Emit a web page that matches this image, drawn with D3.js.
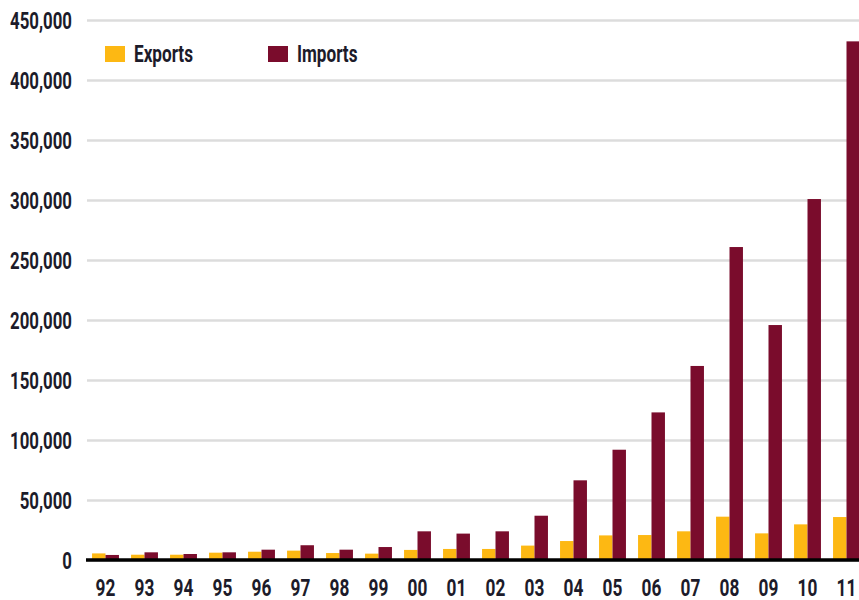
<!DOCTYPE html>
<html>
<head>
<meta charset="utf-8">
<script src="https://cdn.jsdelivr.net/npm/d3@7"></script>
<style>
  html, body { margin: 0; padding: 0; background: #ffffff; }
  svg { display: block; }
  .lbl { font-family: Roboto, "DejaVu Sans", sans-serif; font-weight: bold; fill: #1c1b2a; }
</style>
</head>
<body>
<svg id="chart" width="859" height="600"></svg>
<script>
// Trade values by year (two-digit year labels)
const years = ["92","93","94","95","96","97","98","99","00","01","02","03","04","05","06","07","08","09","10","11"];
const exportsVals = [5500, 4400, 4400, 6100, 6900, 7800, 5800, 5300, 8400, 9200, 9200, 12000, 15800, 20500, 20800, 23900, 36100, 22200, 29700, 35800];
const importsVals = [4200, 6400, 5000, 6400, 8600, 12300, 8600, 10800, 23900, 22000, 23900, 36900, 66400, 91900, 123000, 161700, 260800, 195800, 300800, 432200];
const seriesNames = ["Exports", "Imports"];
const yTicks = [0, 50000, 100000, 150000, 200000, 250000, 300000, 350000, 400000, 450000];

const colors = { Exports: "#FDB813", Imports: "#7A0C2C" };

const plotLeft = 87, plotRight = 859, plotTop = 20, plotBottom = 560;

const svg = d3.select("#chart");

const x = d3.scaleBand()
  .domain(years)
  .range([86, 866])
  .paddingInner(0.31)
  .paddingOuter(0.155);

const sub = d3.scaleBand()
  .domain(seriesNames)
  .range([0, x.bandwidth()]);

const y = d3.scaleLinear()
  .domain([0, 450000])
  .range([plotBottom, plotTop]);

// Condensed look: measure the widest tick label and squeeze all text to suit
const probe = svg.append("text").attr("class", "lbl").style("font-size", "24px").text("450,000");
const squeeze = 62 / probe.node().getComputedTextLength();
probe.remove();

// Gridlines and y labels
const yAxis = d3.axisLeft(y)
  .tickValues(yTicks)
  .tickFormat(d3.format(","))
  .tickSizeInner(-(plotRight - plotLeft))
  .tickSizeOuter(0)
  .tickPadding(15);

const gy = svg.append("g")
  .attr("transform", `translate(${plotLeft},0)`)
  .call(yAxis);
gy.select(".domain").remove();
gy.selectAll(".tick line")
  .attr("stroke", "#dcdcdc")
  .attr("stroke-width", 2.5);
gy.selectAll(".tick text")
  .attr("class", "lbl")
  .style("font-size", "24px")
  .attr("x", -15 / squeeze)
  .attr("dy", "0.36em")
  .attr("transform", `scale(${squeeze},1)`);

// Bars
const groups = svg.append("g")
  .selectAll("g")
  .data(years)
  .join("g")
  .attr("transform", d => `translate(${x(d)},0)`);

groups.selectAll("rect")
  .data((d, i) => [
    { key: "Exports", value: exportsVals[i] },
    { key: "Imports", value: importsVals[i] }
  ])
  .join("rect")
  .attr("x", d => sub(d.key))
  .attr("width", sub.bandwidth())
  .attr("y", d => y(d.value))
  .attr("height", d => y(0) - y(d.value))
  .attr("fill", d => colors[d.key]);

// Year labels
const xAxis = d3.axisBottom(x)
  .tickSize(0)
  .tickPadding(19);

const gx = svg.append("g")
  .attr("transform", `translate(0,${plotBottom})`)
  .call(xAxis);
gx.select(".domain").remove();
gx.selectAll(".tick text")
  .attr("class", "lbl")
  .style("font-size", "23.5px")
  .attr("transform", `scale(${squeeze * 1.05},1)`);

// Baseline
svg.append("line")
  .attr("x1", plotLeft - 1)
  .attr("x2", plotRight)
  .attr("y1", y(0))
  .attr("y2", y(0))
  .attr("stroke", "#000")
  .attr("stroke-width", 3.5);

// Legend
const legendX = [105, 268];
const legend = svg.append("g")
  .selectAll("g")
  .data(seriesNames)
  .join("g")
  .attr("transform", (d, i) => `translate(${legendX[i]},46)`);
legend.append("rect")
  .attr("width", 20)
  .attr("height", 16)
  .attr("fill", d => colors[d]);
legend.append("text")
  .attr("class", "lbl")
  .style("font-size", "24.5px")
  .attr("x", 29 / squeeze)
  .attr("y", 16)
  .attr("transform", `scale(${squeeze},1)`)
  .text(d => d);
</script>
</body>
</html>
